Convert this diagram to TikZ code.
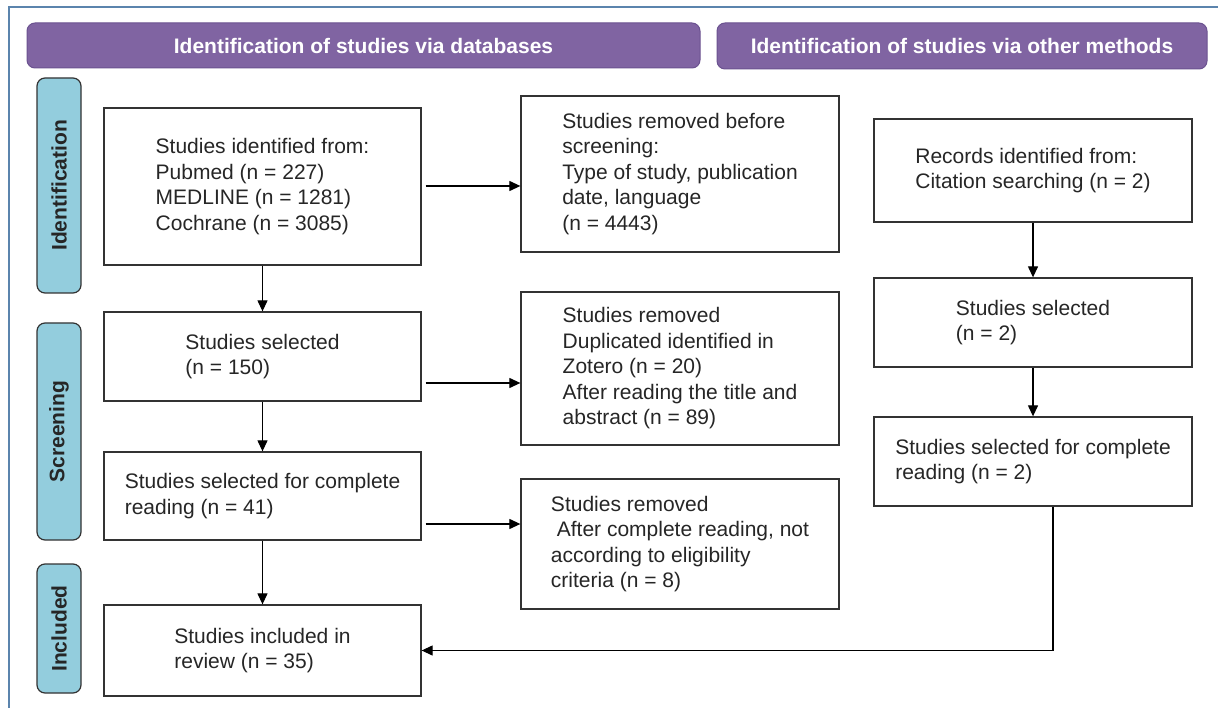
\documentclass[tikz,border=0pt]{standalone}
\usepackage{fontspec}
\setmainfont{Liberation Sans}
\usetikzlibrary{arrows.meta,calc}
\definecolor{frameblue}{HTML}{5B84AD}
\definecolor{hdrpurple}{HTML}{8064A2}
\definecolor{hdredge}{HTML}{6B5290}
\definecolor{sideblue}{HTML}{93CDDD}
\definecolor{txtgray}{HTML}{262626}
\definecolor{boxedge}{HTML}{333333}
\tikzset{
  flowbox/.style={draw=boxedge, line width=1.3pt, fill=white, rectangle, inner sep=0pt,
    align=left, text=txtgray, font=\fontsize{21}{25.5}\selectfont},
  hdrbox/.style={draw=hdredge, line width=1pt, fill=hdrpurple, rounded corners=8pt, inner sep=0pt,
    text=white, font=\fontsize{21}{25}\selectfont\bfseries},
  sidebox/.style={draw=boxedge, line width=1.2pt, fill=sideblue, rounded corners=8pt, inner sep=0pt,
    rotate=90, minimum height=44pt, text=txtgray, font=\fontsize{21}{25}\selectfont\bfseries},
  arr/.style={draw=black, line width=1.2pt, -{Triangle[length=11pt,width=10pt]}},
}
\begin{document}
\begin{tikzpicture}[x=1pt,y=-1pt]
\useasboundingbox (0,0) rectangle (1218,708);
\fill[white] (0,0) rectangle (1218,708);
% frame
\coordinate (fb) at (9,708);
\coordinate (fc) at (9,7);
\coordinate (fr) at (1218,7);
\draw[frameblue, line width=2pt] (fb) -- (fc) -- (fr);
% headers
\node[hdrbox, minimum width=673pt, minimum height=45pt] (h1) at (363.5,45.5) {Identification of studies via databases};
\node[hdrbox, minimum width=490pt, minimum height=46pt] (h2) at (962,46) {Identification of studies via other methods};
% side labels
\node[sidebox, minimum width=215pt] (s1) at (59,185.5) {Identification};
\node[sidebox, minimum width=217pt] (s2) at (59,431.5) {Screening};
\node[sidebox, minimum width=129pt] (s3) at (59,628.5) {Included};
% left column
\node[flowbox, minimum width=317pt, minimum height=157pt] (A) at (262.5,186.5) {Studies identified from:\\Pubmed (n = 227)\\MEDLINE (n = 1281)\\Cochrane (n = 3085)};
\node[flowbox, minimum width=317pt, minimum height=89pt] (B) at (262.5,356.5) {Studies selected\\(n = 150)};
\node[flowbox, minimum width=317pt, minimum height=88pt] (C) at (262.5,496) {Studies selected for complete\\reading (n = 41)};
\node[flowbox, minimum width=317pt, minimum height=91pt] (D) at (262.5,650.5) {Studies included in\\review (n = 35)};
% middle column
\node[flowbox, minimum width=318pt, minimum height=156pt] (E) at (680,174) {Studies removed before\\screening:\\Type of study, publication\\date, language\\(n = 4443)};
\node[flowbox, minimum width=318pt, minimum height=153pt] (F) at (680,368.5) {Studies removed\\Duplicated identified in\\Zotero (n = 20)\\After reading the title and\\abstract (n = 89)};
\node[flowbox, minimum width=318pt, minimum height=130pt] (G) at (680,544) {Studies removed\\\hspace{0.28em}After complete reading, not\\according to eligibility\\criteria (n = 8)};
% right column
\node[flowbox, minimum width=318pt, minimum height=103pt] (H) at (1033,170.5) {Records identified from:\\Citation searching (n = 2)};
\node[flowbox, minimum width=318pt, minimum height=89pt] (I) at (1033,322.5) {Studies selected\\(n = 2)};
\node[flowbox, minimum width=318pt, minimum height=89pt] (J) at (1033,461.5) {Studies selected for complete\\reading (n = 2)};
% vertical arrows
\draw[arr] (A) -- (B);
\draw[arr] (B) -- (C);
\draw[arr] (C) -- (D);
\draw[arr] (H) -- (I);
\draw[arr] (I) -- (J);
% horizontal arrows
\draw[arr, shorten <=4pt] (A.east |- 0,186) -- (E.west |- 0,186);
\draw[arr, shorten <=4pt] (B.east |- 0,383) -- (F.west |- 0,383);
\draw[arr, shorten <=4pt] (C.east |- 0,524) -- (G.west |- 0,524);
% return connector
\coordinate (jx) at ([xshift=20pt]J.south);
\draw[arr] (jx) |- (D.east);
\end{tikzpicture}
\end{document}
